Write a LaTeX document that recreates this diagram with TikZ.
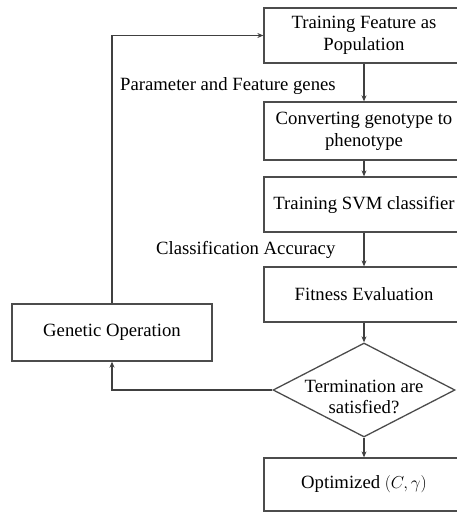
\documentclass[tikz,border=0pt]{standalone}
\usepackage{fontspec}
\setmainfont{Liberation Serif}
\usetikzlibrary{shapes.geometric,arrows.meta}
\begin{document}
\begin{tikzpicture}[x=1pt,y=-1pt,
	box/.style={draw=black!70, line width=1.3pt, minimum width=200pt, minimum height=55pt, inner sep=0pt, align=center, font=\fontsize{18.7}{22}\selectfont},
	flow/.style={draw=black!75, line width=1.3pt, -{Stealth[length=6pt,width=5pt]}},
	lbl/.style={anchor=west, inner sep=0pt, font=\fontsize{18.7}{22}\selectfont}]
	\useasboundingbox (0,0) rectangle (456,513);

	\node[box] (feat) at (364,35.5) {Training Feature as\\Population};
	\node[box, minimum height=58pt] (conv) at (364,131) {Converting genotype to\\phenotype};
	\node[box] (svm) at (364,204.5) {Training SVM classifier};
	\node[box] (fit) at (364,294.5) {Fitness Evaluation};
	\node[diamond, draw=black!70, line width=1.3pt, minimum width=182pt, minimum height=94pt, aspect=1.94, inner sep=0pt] (term) at (364,390) {};
	\node[align=center, inner sep=0pt, font=\fontsize{18.7}{21}\selectfont] (termtxt) at (364,397) {Termination are\\satisfied?};
	\node[box, minimum height=53pt] (opt) at (364,484.5) {Optimized $(C,\gamma)$};
	\node[box, minimum height=57pt] (gen) at (112,332.5) {Genetic Operation};

	\draw[flow] (feat) -- (conv);
	\draw[flow] (conv) -- (svm);
	\draw[flow] (svm) -- (fit);
	\draw[flow] (fit) -- (term);
	\draw[flow] (term) -- (opt);
	\draw[flow] (term.west) -| (gen.south);
	\draw[flow] (gen.north) |- (feat.west);

	\node[lbl] (genes) at (120,86) {Parameter and Feature genes};
	\node[lbl] (acc) at (156,250) {Classification Accuracy};
\end{tikzpicture}
\end{document}
